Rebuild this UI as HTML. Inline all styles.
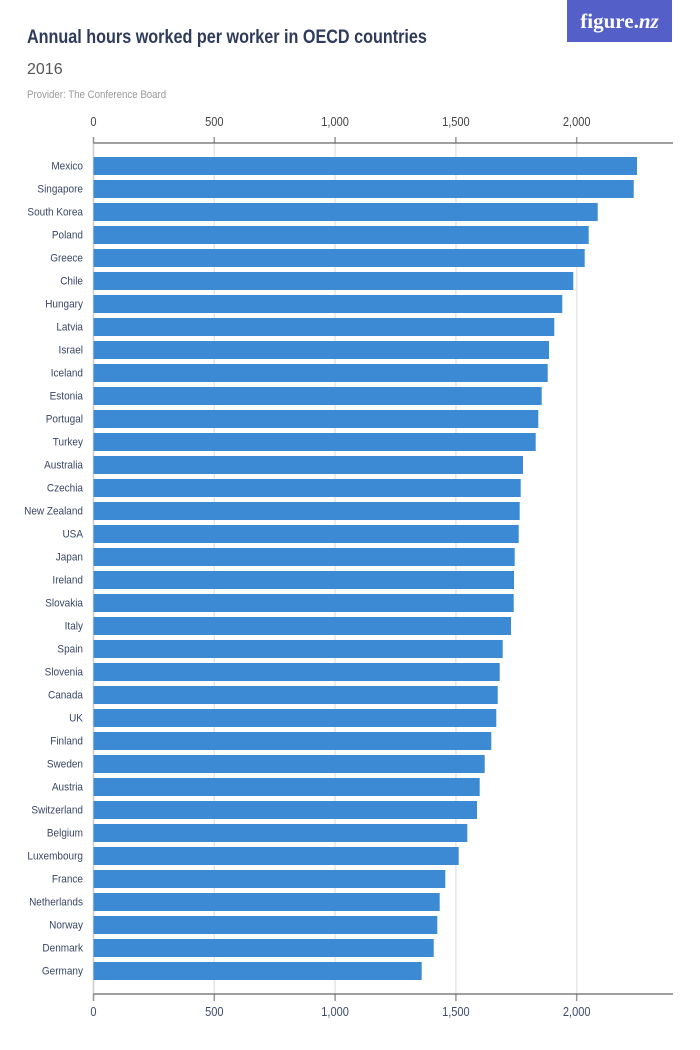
<!DOCTYPE html>
<html><head><meta charset="utf-8"><style>
html,body{margin:0;padding:0;background:#fff;width:700px;height:1050px;overflow:hidden}
svg{display:block}
</style></head><body>
<svg id="c" width="700" height="1050" xmlns="http://www.w3.org/2000/svg" font-family="Liberation Sans, sans-serif">
<rect x="567" y="0" width="105" height="42" fill="#545fc7"/>
<text x="619.5" y="28" text-anchor="middle" fill="#fff" font-family="Liberation Serif, serif" font-size="21" font-weight="bold">figure.<tspan font-style="italic">nz</tspan></text>
<text x="27" y="43" fill="#2f3b5a" font-size="19.5" font-weight="bold" transform="scale(0.83,1)" style="transform-origin:27px 0">Annual hours worked per worker in OECD countries</text>
<text x="27" y="74" fill="#555" font-size="16">2016</text>
<text x="27" y="98" fill="#999" font-size="11" transform="scale(0.88,1)" style="transform-origin:27px 0">Provider: The Conference Board</text>
<g id="g"></g>
</svg>
<script>
var names=["Mexico","Singapore","South Korea","Poland","Greece","Chile","Hungary","Latvia","Israel","Iceland","Estonia","Portugal","Turkey","Australia","Czechia","New Zealand","USA","Japan","Ireland","Slovakia","Italy","Spain","Slovenia","Canada","UK","Finland","Sweden","Austria","Switzerland","Belgium","Luxembourg","France","Netherlands","Norway","Denmark","Germany"];
var ends=[637,633.7,597.7,588.7,584.7,573.3,562.3,554.3,549,547.7,541.7,538.3,535.7,523,520.7,519.7,518.7,514.7,514,513.7,511,502.7,499.7,497.7,496.3,491.3,484.7,479.7,477,467.3,458.7,445.3,439.7,437.3,433.7,421.7];
var x0=93.5,k=120.8/500,s='';
var ticks=[0,500,1000,1500,2000];
ticks.forEach(function(t){var x=x0+t*k;
 s+='<line x1="'+x+'" y1="137" x2="'+x+'" y2="1001" stroke="'+(t==0?'#ccc':'#e6e6e6')+'" stroke-width="1.5"/>';
 s+='<line x1="'+x+'" y1="137" x2="'+x+'" y2="143" stroke="#999" stroke-width="1.5"/>';
 s+='<line x1="'+x+'" y1="994" x2="'+x+'" y2="1001" stroke="#999" stroke-width="1.5"/>';
 var l=t.toLocaleString('en-US');
 s+='<text x="'+x+'" y="126" text-anchor="middle" font-size="13" fill="#444" transform="scale(0.85,1)" style="transform-origin:'+x+'px 0">'+l+'</text>';
 s+='<text x="'+x+'" y="1016" text-anchor="middle" font-size="13" fill="#3e4a6a" transform="scale(0.85,1)" style="transform-origin:'+x+'px 0">'+l+'</text>';
});
s+='<line x1="93.5" y1="143" x2="673" y2="143" stroke="#666" stroke-width="1.3"/>';
s+='<line x1="93.5" y1="994" x2="673" y2="994" stroke="#666" stroke-width="1.3"/>';
names.forEach(function(n,i){var y=157+i*23;
 s+='<rect x="'+x0+'" y="'+y+'" width="'+(ends[i]-x0)+'" height="18" fill="#3b8ad3"/>';
 s+='<text x="83" y="'+(y+12.5)+'" text-anchor="end" font-size="11.5" fill="#3a4666" transform="scale(0.87,1)" style="transform-origin:83px 0">'+n+'</text>';
});
document.getElementById('g').innerHTML=s;
</script>
</body></html>
